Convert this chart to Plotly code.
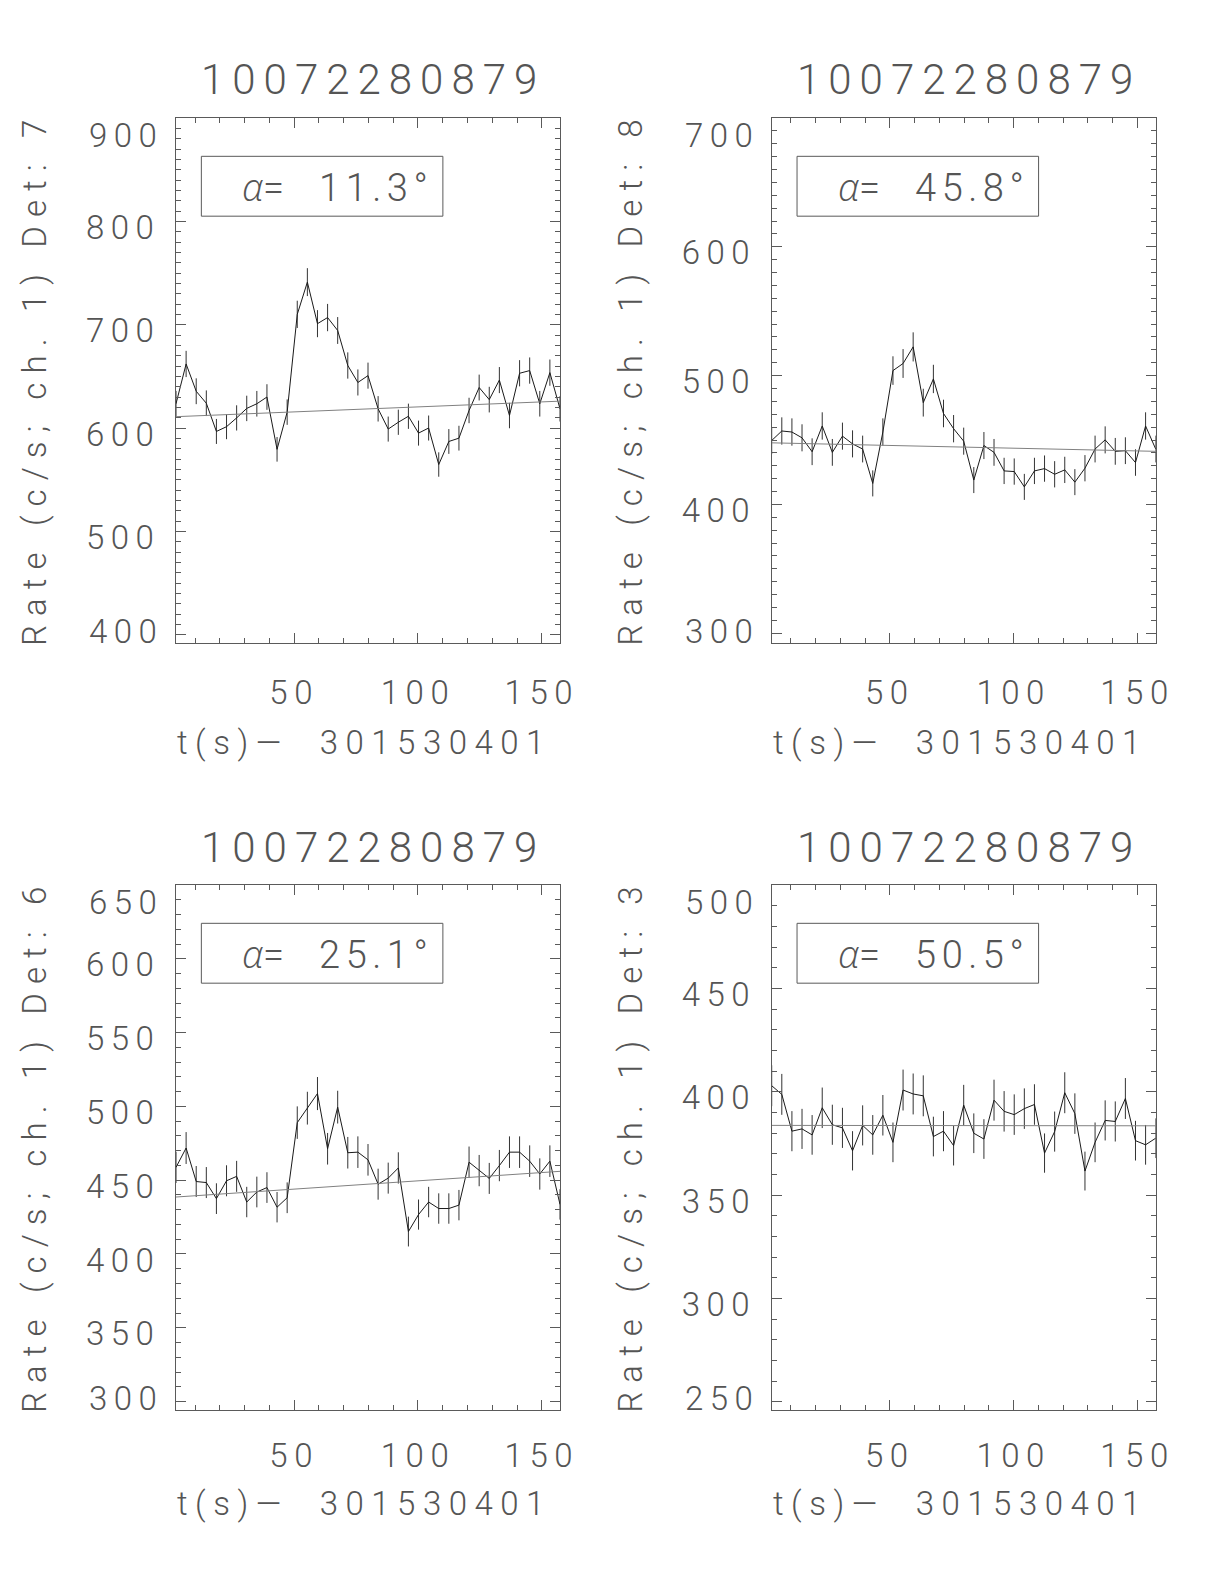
import plotly.graph_objects as go

# ---------------- data ----------------
times = [2.30, 6.38, 10.46, 14.54, 18.62, 22.70, 26.78, 30.86, 34.94, 39.02,
         43.10, 47.18, 51.26, 55.34, 59.42, 63.50, 67.58, 71.66, 75.74, 79.82,
         83.90, 87.98, 92.06, 96.14, 100.22, 104.30, 108.38, 112.46, 116.54, 120.62,
         124.70, 128.78, 132.86, 136.94, 141.02, 145.10, 149.18, 153.26, 157.34]

plot_title = "10072280879"
x_title = "t(s)\u2014\u00a0 301530401"
det_names = ["7", "8", "6", "3"]
alpha_values = ["11.3", "45.8", "25.1", "50.5"]

rate_det7 = [623.5, 662.0, 635.6, 624.0, 596.7, 601.3, 609.8, 619.0, 623.5, 630.0,
             579.4, 615.4, 710.0, 741.2, 701.0, 706.9, 694.4, 660.5, 644.1, 650.7,
             618.6, 599.0, 605.6, 611.4, 595.1, 600.0, 564.7, 587.0, 590.2, 617.0,
             639.2, 627.5, 646.4, 612.1, 653.0, 655.6, 623.5, 653.6, 618.6]
err_det7 = [12.4, 12.7, 12.5, 12.4, 12.1, 12.1, 12.2, 12.3, 12.4, 12.4,
            11.9, 12.3, 13.2, 13.5, 13.1, 13.2, 13.0, 12.7, 12.6, 12.6,
            12.3, 12.1, 12.2, 12.2, 12.1, 12.1, 11.8, 12.0, 12.0, 12.3,
            12.5, 12.4, 12.6, 12.3, 12.7, 12.7, 12.4, 12.7, 12.3]
bkg_det7 = [611.0, 626.0]

rate_det8 = [449.6, 457.0, 456.2, 451.7, 440.9, 460.9, 440.4, 453.0, 447.0, 443.0,
             416.3, 456.2, 503.9, 509.4, 522.3, 479.0, 497.4, 470.6, 458.8, 449.1,
             418.9, 445.7, 440.4, 426.0, 425.5, 413.6, 426.0, 427.8, 423.4, 426.8,
             417.3, 428.1, 443.0, 450.1, 441.2, 441.7, 432.5, 460.9, 443.0]
err_det8 = [10.5, 10.6, 10.6, 10.5, 10.4, 10.6, 10.4, 10.5, 10.5, 10.4,
            10.1, 10.6, 11.1, 11.2, 11.3, 10.8, 11.0, 10.7, 10.6, 10.5,
            10.1, 10.5, 10.4, 10.2, 10.2, 10.1, 10.2, 10.2, 10.2, 10.2,
            10.1, 10.2, 10.4, 10.5, 10.4, 10.4, 10.3, 10.6, 10.4]
bkg_det8 = [447.8, 441.2]

rate_det6 = [458.7, 471.8, 449.1, 448.4, 437.5, 449.6, 452.6, 435.2, 442.0, 445.0,
             431.7, 438.1, 489.0, 498.8, 508.7, 471.3, 499.5, 468.6, 469.0, 463.8,
             447.3, 451.4, 458.3, 415.2, 426.7, 435.2, 430.8, 430.8, 433.1, 462.2,
             456.5, 451.2, 459.9, 469.0, 469.0, 462.9, 454.2, 462.9, 433.6]
err_det6 = [10.6, 10.8, 10.5, 10.5, 10.4, 10.5, 10.5, 10.3, 10.4, 10.4,
            10.3, 10.4, 11.0, 11.1, 11.2, 10.7, 11.1, 10.7, 10.7, 10.7,
            10.5, 10.5, 10.6, 10.1, 10.2, 10.3, 10.3, 10.3, 10.3, 10.6,
            10.6, 10.5, 10.6, 10.7, 10.7, 10.7, 10.6, 10.7, 10.3]
bkg_det6 = [438.6, 456.0]

rate_det3 = [402.9, 398.7, 380.9, 382.0, 379.1, 392.2, 384.0, 382.5, 371.4, 383.7,
             379.1, 388.6, 375.5, 400.8, 398.9, 398.0, 378.3, 380.9, 373.9, 393.5,
             379.9, 377.1, 395.9, 390.5, 388.9, 391.8, 393.8, 370.3, 380.7, 399.5,
             389.4, 361.6, 375.5, 386.1, 385.6, 396.7, 376.3, 374.3, 377.5]
err_det3 = [9.9, 9.9, 9.7, 9.7, 9.6, 9.8, 9.7, 9.7, 9.5, 9.7,
            9.6, 9.8, 9.6, 9.9, 9.9, 9.9, 9.6, 9.7, 9.6, 9.8,
            9.6, 9.6, 9.9, 9.8, 9.8, 9.8, 9.8, 9.5, 9.7, 9.9,
            9.8, 9.4, 9.6, 9.7, 9.7, 9.9, 9.6, 9.6, 9.6]
bkg_det3 = [383.7, 383.5]

y_ranges = [[392.0, 900.0], [292.4, 700.0], [294.3, 650.0], [246.0, 500.0]]
y_ticks = [[400, 500, 600, 700, 800, 900],
           [300, 400, 500, 600, 700],
           [300, 350, 400, 450, 500, 550, 600, 650],
           [250, 300, 350, 400, 450, 500]]
x_ticks = [50, 100, 150]

rates = [rate_det7, rate_det8, rate_det6, rate_det3]
errs = [err_det7, err_det8, err_det6, err_det3]
bkgs = [bkg_det7, bkg_det8, bkg_det6, bkg_det3]

# ---------------- layout geometry (pixels in a 1224 x 1584 page) ----------------
W, H = 1224, 1584
FONT = "Roboto"
FW = 300
TXT = "#555555"
AX = "#5a5a5a"
panels_px = [  # x0, x1, ytop, ybottom
    (176.0, 560.0, 118.0, 643.0),
    (771.7, 1155.7, 118.0, 643.0),
    (176.0, 560.0, 885.0, 1410.0),
    (771.7, 1155.7, 885.0, 1410.0),
]


def spaced(s, px):
    return '<span style="letter-spacing:%.1fpx">%s</span>' % (px, s)


def fnt(size):
    return dict(family=FONT, size=size, color=TXT, weight=FW)


fig = go.Figure()
annotations = []
shapes = []
layout = dict(width=W, height=H,
              margin=dict(l=0, r=0, t=0, b=0, autoexpand=False),
              paper_bgcolor="white", plot_bgcolor="white", showlegend=False,
              font=fnt(33))

for i in range(4):
    n = "" if i == 0 else str(i + 1)
    xa, ya = "x" + n, "y" + n
    x0, x1, yt, yb = panels_px[i]
    top_row = i < 2
    xdom = [x0 / W, x1 / W]
    ydom = [1 - yb / H, 1 - yt / H]

    fig.add_trace(go.Scatter(
        x=times, y=rates[i], mode="lines", xaxis=xa, yaxis=ya,
        line=dict(color="#1a1a1a", width=1),
        error_y=dict(type="data", array=errs[i], visible=True,
                     color="#333333", thickness=1, width=0),
        hoverinfo="skip"))
    fig.add_trace(go.Scatter(
        x=[times[0], times[-1]], y=bkgs[i], mode="lines", xaxis=xa, yaxis=ya,
        line=dict(color="#808080", width=1), hoverinfo="skip"))

    ticktext = [spaced(str(v), 6.5) for v in y_ticks[i]]
    ticktext[0] = ""
    ticktext[-1] = ""
    common = dict(showline=True, linecolor=AX, linewidth=1, mirror="allticks",
                  ticks="inside", tickcolor=AX, tickwidth=1, ticklen=10,
                  showgrid=False, zeroline=False, automargin=False,
                  tickfont=fnt(33))
    layout["xaxis" + n] = dict(
        domain=xdom, range=[times[0], times[-1]], anchor=ya,
        tickvals=x_ticks, ticktext=[spaced(str(v), 6.5) for v in x_ticks],
        ticklabelstandoff=20 if top_row else 16,
        minor=dict(ticks="inside", ticklen=5, tickcolor=AX, dtick=10, tick0=0),
        **common)
    layout["yaxis" + n] = dict(
        domain=ydom, range=y_ranges[i], anchor=xa,
        tickvals=y_ticks[i], ticktext=ticktext, ticklabelstandoff=8,
        ticklabelshift=6,
        minor=dict(ticks="inside", ticklen=5, tickcolor=AX, dtick=10, tick0=0),
        **common)

    # end tick labels (drawn pulled inward, as in the reference)
    annotations.append(dict(
        text=spaced(str(y_ticks[i][-1]), 6.5), x=(x0 - 11) / W, xref="paper",
        xanchor="right", y=1, yref=ya + " domain", yanchor="middle", yshift=-17,
        showarrow=False, font=fnt(33)))
    annotations.append(dict(
        text=spaced(str(y_ticks[i][0]), 6.5), x=(x0 - 11) / W, xref="paper",
        xanchor="right", y=0, yref=ya + " domain", yanchor="middle", yshift=12,
        showarrow=False, font=fnt(33)))

    cx = (x0 + x1) / 2
    # plot title
    annotations.append(dict(
        text=spaced(plot_title, 8), x=(cx + 5.3) / W, y=1 - (yt - 38) / H,
        xref="paper", yref="paper", xanchor="center", yanchor="middle",
        showarrow=False, font=fnt(42)))
    # x axis title
    annotations.append(dict(
        text=spaced(x_title, 7.5), x=(cx - 3.5) / W,
        y=1 - (yb + (99.5 if top_row else 93)) / H,
        xref="paper", yref="paper", xanchor="center", yanchor="middle",
        showarrow=False, font=fnt(33)))
    # y axis title
    annotations.append(dict(
        text=spaced("Rate (c/s; ch. 1) Det: " + det_names[i], 9.1),
        x=(x0 - 141.5) / W, y=1 - ((yt + yb) / 2 - 2) / H,
        xref="paper", yref="paper", xanchor="center", yanchor="middle",
        textangle=-90, showarrow=False, font=fnt(33)))
    # alpha box
    shapes.append(dict(type="rect", xref=xa + " domain", yref=ya + " domain",
                       x0=0.066, x1=0.695, y0=0.813, y1=0.927,
                       line=dict(color=AX, width=1)))
    annotations.append(dict(
        text='<span style="font-family:Open Sans"><i>\u03b1</i></span>'
             + spaced("=\u00a0 " + alpha_values[i] + "\u00b0", 5.5),
        x=0.421, y=0.87, xref=xa + " domain", yref=ya + " domain",
        xanchor="center", yanchor="middle", showarrow=False, font=fnt(38)))

layout["annotations"] = annotations
layout["shapes"] = shapes
fig.update_layout(**layout)

# remove the default page margin so the figure sits at the window origin
page_js = ("var h=document.documentElement,b=document.body;"
           "h.style.margin='0';h.style.padding='0';h.style.overflow='hidden';"
           "b.style.margin='0';b.style.padding='0';b.style.overflow='hidden';")
fig.write_html("out.html", config={"displayModeBar": False},
               post_script=page_js)
